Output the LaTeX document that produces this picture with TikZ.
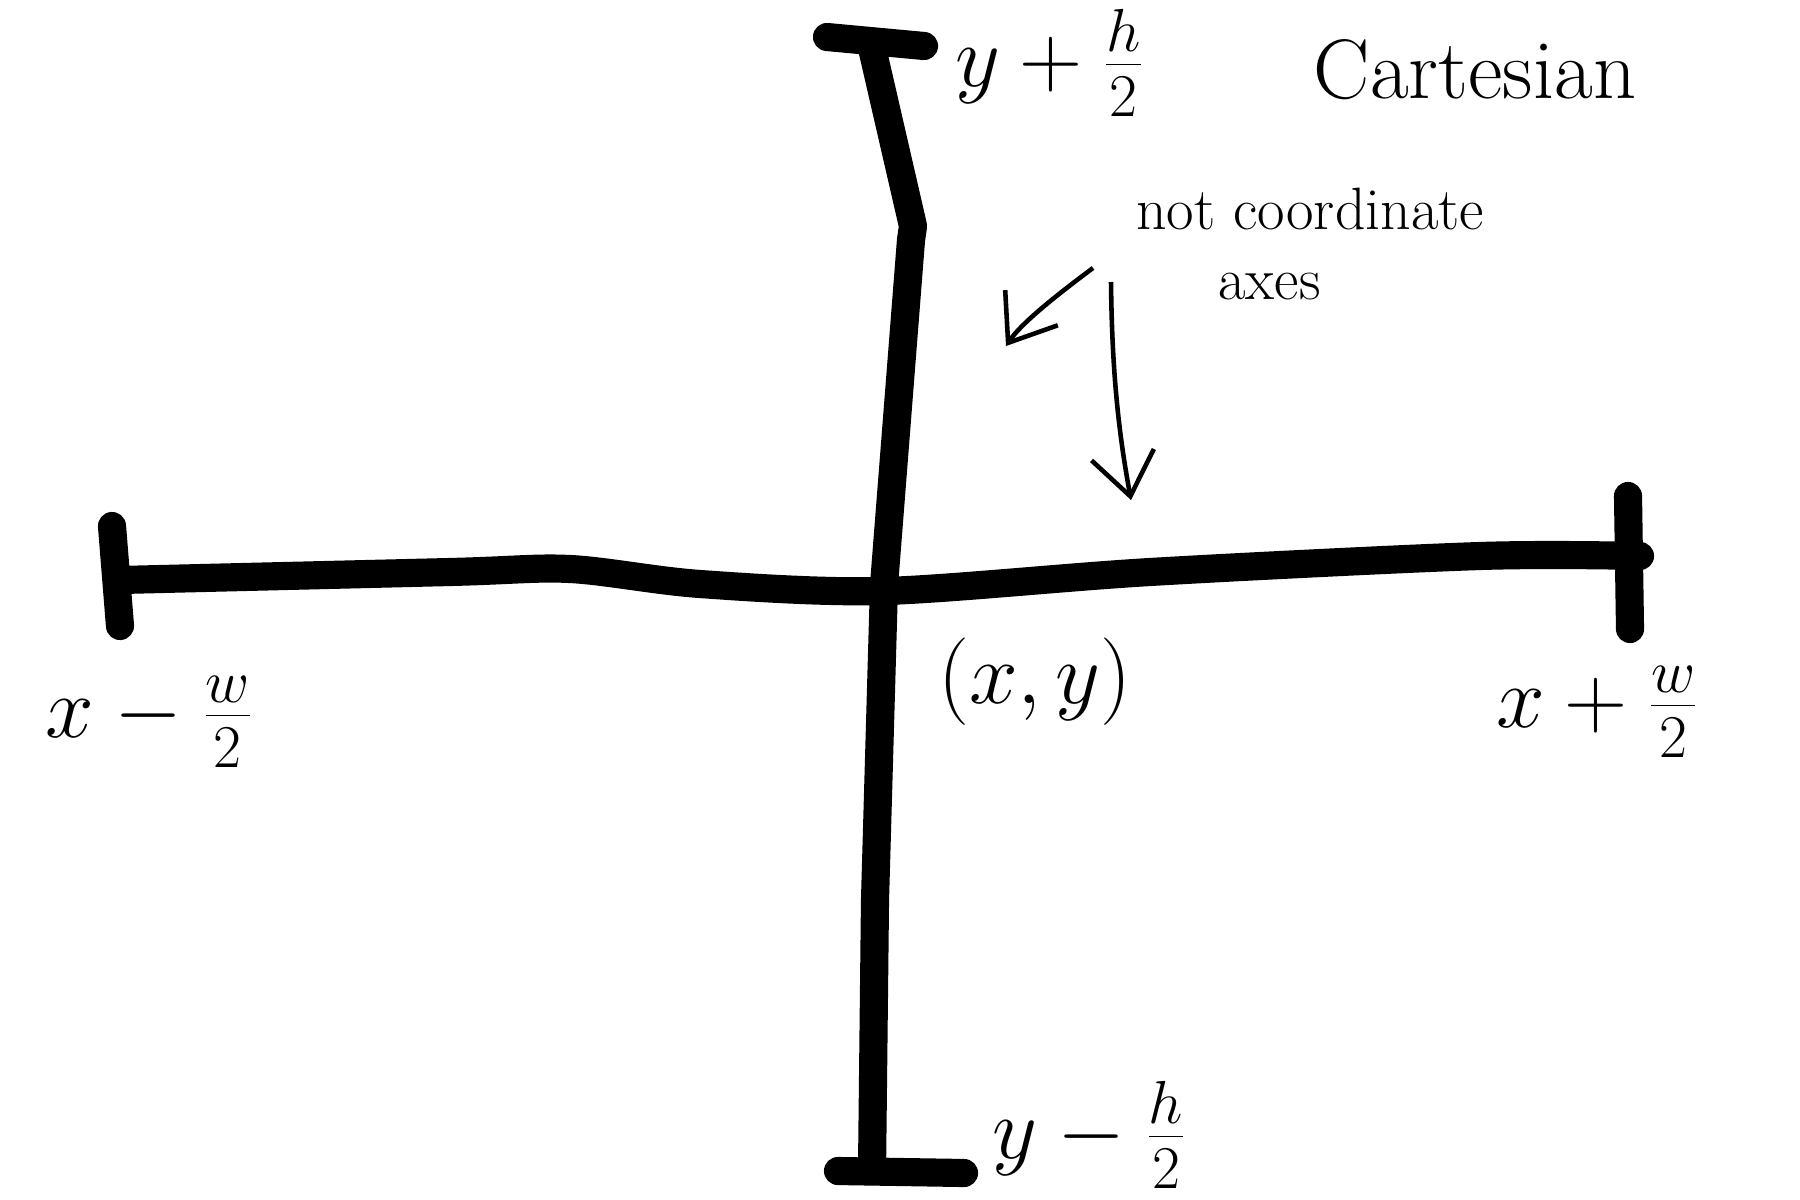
\documentclass[tikz,border=0pt]{standalone}
\usetikzlibrary{arrows.meta}
\begin{document}
\begin{tikzpicture}[x=0.01cm,y=-0.01cm,
  axis/.style={line width=8pt,line cap=round,line join=round},
  lbl/.style={font=\fontsize{24}{28}\selectfont,inner sep=0pt},
  note/.style={font=\fontsize{17}{20}\selectfont,inner sep=1pt,align=center},
  pointer/.style={line width=1.3pt,-{Straight Barb[length=12pt,width=18pt]}}]
\useasboundingbox (0,0) rectangle (1800,1200);
% vertical stroke
\coordinate (tb1) at (827,37);
\coordinate (tb2) at (924,46);
\coordinate (bb1) at (838,1171);
\coordinate (bb2) at (964,1173);
\draw[axis] (tb1) -- (tb2);
\draw[axis] (872,48) -- (913,226) -- (911,240) -- (884,585) -- (875,900) -- (872,1171);
\draw[axis] (bb1) -- (bb2);
% horizontal stroke
\draw[axis] (112,526) -- (120,626);
\draw[axis] plot[smooth] coordinates {(120,580) (450,572) (570,569) (700,584) (884,591) (1150,572) (1480,556) (1640,556)};
\draw[axis] (1628,496) -- (1630,629);
% labels
\node[lbl] (ytop) at (1050,63) {$y+\frac{h}{2}$};
\node[lbl] (ybot) at (1090,1135) {$y-\frac{h}{2}$};
\node[lbl] (xl) at (150,722) {$x-\frac{w}{2}$};
\node[lbl] (xr) at (1598,712) {$x+\frac{w}{2}$};
\node[lbl] (xy) at (1035,682) {$(x,y)$};
\node[font=\fontsize{24}{28}\selectfont] (cart) at (1475,70) {Cartesian};
\node[note] (nca) at (1310,244) {not coordinate\\\hspace*{-23pt}axes};
% arrows
\coordinate (a1s) at (1093,268);
\coordinate (a1e) at (1006,346);
\coordinate (a2s) at (1111,282);
\coordinate (a2e) at (1131,500);
\draw[pointer] (a1s) .. controls (1050,300) and (1020,325) .. (a1e);
\draw[pointer] (a2s) .. controls (1112,380) and (1120,440) .. (a2e);
\end{tikzpicture}
\end{document}
